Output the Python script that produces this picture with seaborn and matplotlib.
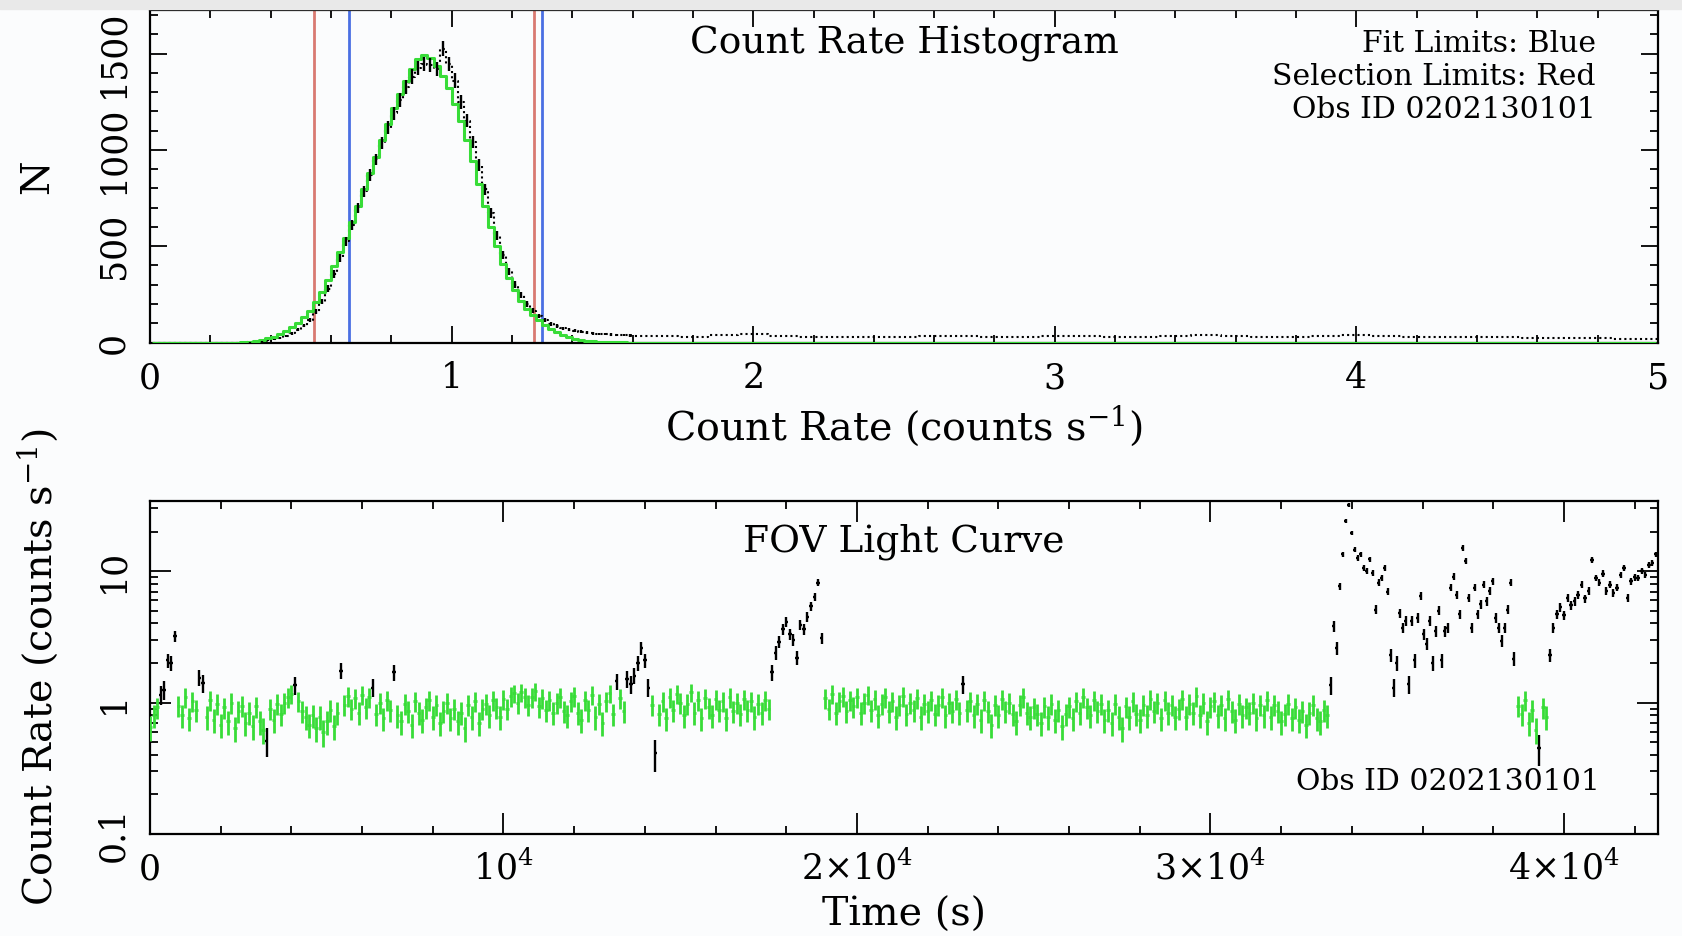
import numpy as np
import matplotlib
matplotlib.use("Agg")
import matplotlib.pyplot as plt
from matplotlib.patches import Rectangle
from matplotlib.ticker import MultipleLocator, FixedLocator, LogLocator, NullFormatter
import seaborn as sns

# ---------------- histogram data (count-rate histogram) ----------------
BIN_W = 0.02
core_x0 = 0.31                     # first bin centre of the listed core
fit_core = [3, 5, 9, 14, 21, 30, 42, 58, 78, 102, 130, 165, 210, 262, 325,
            395, 470, 545, 625, 710, 795, 880, 965, 1050, 1135, 1215, 1290, 1360, 1420, 1470,
            1490, 1475, 1435, 1385, 1320,
            1240, 1150, 1050, 940, 825, 710, 600, 500, 410, 335, 270, 215, 175, 145, 118,
            92, 70, 52, 38, 27, 19, 13, 9, 6, 4, 3, 2, 1, 1, 0]
data_core = [0, 1, 3, 6, 10, 16, 24, 35, 48, 66, 88, 118, 160, 212, 280,
             355, 440, 525, 610, 700, 785, 870, 950, 1035, 1115, 1190, 1260, 1325, 1380, 1425,
             1445, 1440, 1420, 1525, 1445,
             1360, 1250, 1150, 1040, 920, 795, 670, 555, 455, 370, 300, 245, 200, 165, 138,
             116, 98, 85, 74, 66, 60, 55, 51, 48, 45, 43, 41, 39, 38, 37]
tail_x0, tail_dx = 1.6, 0.1
data_tail = [36, 33, 31, 38, 44, 36, 30, 28, 27, 30, 34, 33, 29, 31, 35, 32, 30, 31,
             36, 40, 35, 30, 28, 33, 38, 35, 30, 28, 27, 26, 25, 24, 22, 20, 18]
fit_limits = [0.66, 1.30]
selection_limits = [0.545, 1.273]

# ---------------- light curve data (rate, counts/s) ----------------
EXPO = 32.0   # effective exposure per bin (s)
seg0 = dict(t0=0, dt=100, r=[0.65, 0.80, 0.92, 1.15, 1.25, 2.1, 2.0, 3.2])
gti1 = dict(t0=800, dt=100, r=[
    0.95, 0.80, 1.10, 0.76, 1.02, 0.88, 1.55, 1.40, 0.78, 1.05,
    0.74, 0.98, 0.68, 0.92, 0.72, 1.00, 0.64, 0.86, 0.95, 0.70,
    0.84, 0.66, 0.94, 0.72, 0.62, 0.51, 0.90, 0.74, 0.98, 0.82,
    1.00, 1.10, 1.16, 1.35, 1.02, 0.86, 0.78, 0.68, 0.80, 0.64,
    0.78, 0.60, 0.72, 0.88, 0.66, 0.84, 1.75, 0.96, 1.12, 0.90,
    1.08, 0.84, 1.15, 0.92, 1.10, 1.30, 0.82, 1.00, 0.76, 1.05,
    0.88, 1.70, 0.80, 0.72, 0.98, 0.86, 0.68, 1.02, 0.84, 0.74,
    0.92, 1.04, 0.78, 0.96, 0.70, 0.86, 1.00, 0.76, 0.90, 0.72,
    0.84, 0.64, 0.96, 0.78, 1.02, 0.70, 0.90, 0.98, 0.80, 1.04,
    0.92, 0.78, 1.06, 0.90, 1.12, 1.18, 1.00, 1.20, 1.10, 0.96,
    1.10, 1.22, 0.94, 1.08, 0.88, 1.04, 0.84, 1.00, 1.10, 0.86,
    0.80, 1.02, 1.12, 0.84, 0.74, 1.04, 0.88, 1.14, 0.78, 0.98,
    0.70, 1.02, 1.18, 0.82, 1.45, 1.08, 0.86, 1.52, 1.38, 1.60,
    2.0, 2.6, 2.1, 1.30, 0.96, 0.41, 0.82, 1.02, 0.76, 1.10,
    0.88, 1.16, 1.00, 0.80, 0.98, 1.20, 0.84, 1.04, 0.76, 1.08,
    0.92, 0.80, 1.06, 0.88, 1.02, 0.76, 1.10, 0.86, 1.00, 0.82,
    1.06, 0.88, 1.02, 0.78, 0.98, 0.84, 1.04, 0.90])
flare1 = dict(t0=17600, dt=100, r=[1.7, 2.4, 2.9, 3.6, 4.1, 3.3, 3.0, 2.2, 3.9, 3.6,
                                   4.5, 5.4, 6.4, 8.2, 3.1])
gti2 = dict(t0=19100, dt=100, r=[
    1.08, 0.90, 1.16, 0.84, 1.02, 1.12, 0.86, 1.04, 0.94, 1.10,
    0.84, 1.00, 1.14, 0.88, 1.06, 0.80, 0.98, 1.10, 0.86, 1.02,
    0.78, 0.96, 1.12, 0.82, 1.00, 0.88, 1.08, 0.78, 0.98, 0.86,
    1.04, 0.82, 0.96, 1.10, 0.80, 1.00, 0.86, 1.06, 0.84, 1.38,
    0.88, 1.02, 0.80, 0.98, 0.74, 1.04, 0.86, 0.68, 0.96, 0.80,
    1.06, 0.86, 1.00, 0.82, 0.72, 0.96, 1.10, 0.84, 0.78, 0.92,
    0.82, 0.70, 0.94, 0.78, 0.98, 0.74, 0.88, 0.66, 0.82, 0.94,
    0.76, 1.02, 0.84, 1.10, 0.92, 0.80, 1.04, 0.86, 0.98, 0.74,
    0.88, 0.70, 0.98, 0.78, 0.64, 0.94, 0.78, 1.02, 0.82, 0.74,
    0.96, 0.80, 1.06, 0.86, 1.00, 0.76, 1.04, 0.84, 0.96, 0.78,
    0.90, 1.06, 0.78, 0.98, 0.84, 1.12, 0.80, 1.00, 0.72, 0.94,
    1.02, 0.80, 0.96, 0.76, 1.06, 0.86, 0.74, 0.98, 0.80, 0.92,
    0.84, 1.00, 0.76, 0.96, 0.80, 1.04, 0.78, 0.96, 0.86, 0.72,
    0.82, 0.98, 0.76, 0.92, 0.74, 0.86, 0.68, 0.84, 0.96, 0.76,
    0.72, 0.88, 0.80])
flare2 = dict(t0=33400, dt=85, r=[
    1.35, 3.8, 2.6, 7.7, 13.4, 24, 32, 19.5, 14.6, 12.6, 13.4, 10.6, 10, 12.3, 9.7,
    5.1, 8.2, 8.9, 10.6, 7.0, 2.3, 1.3, 2.0, 4.8, 3.7, 4.2, 1.38, 4.2, 2.1, 4.4,
    6.5, 3.3, 2.8, 4.2, 2.0, 3.5, 5.0, 2.1, 3.5, 3.7, 7.5, 9.1, 6.6, 4.7, 15,
    11.9, 6.3, 3.7, 7.5, 4.7, 5.6, 7.9, 5.9, 7.1, 8.4, 4.4, 3.7, 2.95, 3.7, 5.1,
    8.2, 2.15])
gti3 = dict(t0=38700, dt=100, r=[0.95, 0.82, 1.05, 0.70, 0.88, 0.62, 0.45, 0.92, 0.78])
flare3 = dict(t0=39600, dt=100, r=[
    2.3, 3.7, 4.7, 5.3, 4.6, 6.3, 5.5, 5.9, 6.6, 7.9, 6.2, 7.1, 12.2, 8.9, 8.2,
    9.6, 7.1, 7.9, 6.8, 7.5, 9.4, 10.6, 6.3, 8.4, 9.0, 8.9, 10.0, 9.4, 11.2, 11.5, 13.4])
gti_start = [0, 800, 19100, 38700]
gti_stop = [250, 17500, 33300, 39500]

# ---------------- derived arrays ----------------
core_x = core_x0 + BIN_W * np.arange(len(data_core))
fit_core = np.array(fit_core, float)
data_core = np.array(data_core, float)
tail_x = tail_x0 + tail_dx * np.arange(len(data_tail))
lead_x = np.arange(0.01, core_x0 - 1e-9, BIN_W)
trail_x = np.arange(core_x[-1] + BIN_W, 5.0, BIN_W)
fit_x_all = np.concatenate([lead_x, core_x, trail_x])
fit_y_all = np.concatenate([np.zeros(len(lead_x)), fit_core, np.zeros(len(trail_x))])
dat_x_all = np.concatenate([lead_x, core_x, tail_x])
dat_y_all = np.concatenate([np.zeros(len(lead_x)), data_core, np.array(data_tail, float)])

segs = [seg0, gti1, flare1, gti2, flare2, gti3, flare3]
t_all = np.concatenate([s["t0"] + s["dt"] * np.arange(len(s["r"])) for s in segs])
half = np.concatenate([np.full(len(s["r"]), s["dt"] / 2) for s in segs])
r_all = np.concatenate([np.array(s["r"], float) for s in segs])
err = np.sqrt(r_all / EXPO)
in_gti = np.zeros(len(t_all), bool)
for a, b in zip(gti_start, gti_stop):
    in_gti |= (t_all >= a) & (t_all <= b)
good = in_gti & (r_all >= selection_limits[0]) & (r_all <= selection_limits[1])

# ---------------- styling ----------------
sns.set_theme(style="white")
plt.rcParams["font.family"] = ["DejaVu Serif"]
plt.rcParams["mathtext.fontset"] = "dejavuserif"
for k in ("text.color", "axes.labelcolor", "xtick.color", "ytick.color"):
    plt.rcParams[k] = "black"
BG = "#fbfcfd"
GREEN = "#38dc38"
RED = "#d97a72"
BLUE = "#4a6fe3"
TICK_FS = 25
LAB_FS = 28.5
TITLE_FS = 27
NOTE_FS = 21.5

fig = plt.figure(figsize=(16.82, 9.36), dpi=100, facecolor=BG)
fig.patches.append(Rectangle((0, 1 - 9 / 936), 1, 9 / 936, transform=fig.transFigure,
                             color="#e9e9e9", zorder=0))
ax1 = fig.add_axes([150 / 1682, 1 - 342.5 / 936, 1508 / 1682, 332.5 / 936])
ax2 = fig.add_axes([150 / 1682, 1 - 834 / 936, 1508 / 1682, 333 / 936])

def style(ax):
    ax.set_facecolor(BG)
    for sp in ax.spines.values():
        sp.set_color("black")
        sp.set_linewidth(1.6)
    ax.tick_params(which="both", direction="in", top=True, right=True, bottom=True, left=True,
                   color="black", width=1.3)
    ax.tick_params(which="major", length=12)
    ax.tick_params(which="minor", length=6)
    ax.tick_params(axis="both", labelsize=TICK_FS, labelcolor="black")
    ax.tick_params(axis="y", pad=14)

# ---------------- top: histogram ----------------
style(ax1)
for x in selection_limits:
    ax1.axvline(x, color=RED, lw=2.0, zorder=2)
for x in fit_limits:
    ax1.axvline(x, color=BLUE, lw=2.0, zorder=2)
sns.lineplot(x=dat_x_all, y=dat_y_all, ax=ax1, drawstyle="steps-mid", color="black",
             linewidth=1.5, linestyle=(0, (1, 1.5)), estimator=None, sort=False, zorder=3)
sns.lineplot(x=fit_x_all, y=fit_y_all, ax=ax1, drawstyle="steps-mid", color=GREEN,
             linewidth=2.2, estimator=None, sort=False, zorder=4)
ax1.errorbar(core_x, data_core, yerr=np.sqrt(data_core), fmt="none", ecolor="black",
             elinewidth=1.7, capsize=0, zorder=5)
ax1.set_xlim(0, 5)
ax1.set_ylim(0, 1726)
ax1.xaxis.set_major_locator(MultipleLocator(1))
ax1.xaxis.set_minor_locator(MultipleLocator(0.2))
ax1.yaxis.set_major_locator(MultipleLocator(500))
ax1.yaxis.set_minor_locator(MultipleLocator(100))
ax1.set_xlabel("Count Rate (counts s$^{-1}$)", fontsize=LAB_FS)
ax1.set_ylabel("N", fontsize=LAB_FS)
ax1.xaxis.set_label_coords(0.5, (342.5 - 426) / 332.5)
ax1.xaxis.label.set_va("center")
ax1.yaxis.set_label_coords((37.5 - 150) / 1508, 0.5)
ax1.yaxis.label.set_va("center")
ax1.text(0.5, (342.5 - 44) / 332.5, "Count Rate Histogram", transform=ax1.transAxes,
         ha="center", va="center", fontsize=TITLE_FS)
for txt, yy in [("Fit Limits: Blue", 44), ("Selection Limits: Red", 77),
                ("Obs ID 0202130101", 110.5)]:
    ax1.text((1596 - 150) / 1508, (342.5 - yy) / 332.5, txt, transform=ax1.transAxes,
             ha="right", va="center", fontsize=NOTE_FS)

# ---------------- bottom: light curve ----------------
style(ax2)
ax2.set_yscale("log")
ax2.errorbar(t_all[~good], r_all[~good], yerr=err[~good], xerr=half[~good], fmt="none",
             ecolor="black", elinewidth=1.7, capsize=0, zorder=3)
ax2.errorbar(t_all[good], r_all[good], yerr=err[good], xerr=half[good], fmt="none",
             ecolor=GREEN, elinewidth=2.0, capsize=0, zorder=4)
ax2.set_xlim(0, 42660)
ax2.set_ylim(0.1, 34.2)
ax2.xaxis.set_major_locator(FixedLocator([0, 1e4, 2e4, 3e4, 4e4]))
ax2.set_xticklabels(["0", "10$^{4}$", "2×10$^{4}$", "3×10$^{4}$", "4×10$^{4}$"])
ax2.xaxis.set_minor_locator(MultipleLocator(2000))
ax2.yaxis.set_major_locator(FixedLocator([0.1, 1, 10]))
ax2.set_yticklabels(["0.1", "1", "10"])
ax2.yaxis.set_minor_locator(LogLocator(base=10, subs=np.arange(2, 10)))
ax2.yaxis.set_minor_formatter(NullFormatter())
ax2.tick_params(which="major", length=15)
ax2.set_xlabel("Time (s)", fontsize=LAB_FS)
ax2.set_ylabel("Count Rate (counts s$^{-1}$)", fontsize=LAB_FS)
ax2.xaxis.set_label_coords(0.5, (834 - 915) / 333)
ax2.xaxis.label.set_va("center")
ax2.yaxis.set_label_coords((37.5 - 150) / 1508, 0.5)
ax2.yaxis.label.set_va("center")
ax2.text(0.5, (834 - 542) / 333, "FOV Light Curve", transform=ax2.transAxes,
         ha="center", va="center", fontsize=TITLE_FS)
ax2.text((1600 - 150) / 1508, (834 - 782) / 333, "Obs ID 0202130101", transform=ax2.transAxes,
         ha="right", va="center", fontsize=NOTE_FS)

for ax in (ax1, ax2):
    for lab in ax.get_yticklabels():
        lab.set_rotation(90)
        lab.set_va("center")
    for lab in ax.get_xticklabels():
        lab.set_va("baseline")
    ax.tick_params(axis="x", pad=33)

fig.savefig("out.png", dpi=100, facecolor=BG)
